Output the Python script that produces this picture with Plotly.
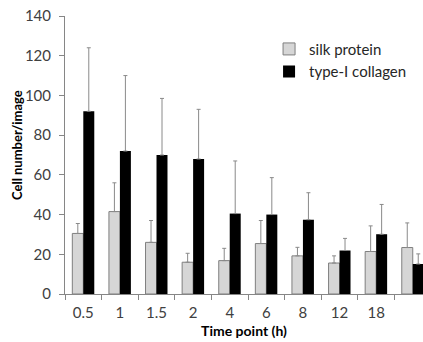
import plotly.graph_objects as go

categories = ["0.5", "1", "1.5", "2", "4", "6", "8", "12", "18", ""]
cat_keys = ["c%d" % i for i in range(len(categories))]

silk_values = [30.5, 41.5, 26.0, 16.0, 16.8, 25.4, 19.2, 15.6, 21.4, 23.4]
silk_err = [5.0, 14.5, 11.0, 4.5, 6.2, 11.6, 4.3, 3.6, 12.9, 12.4]

collagen_values = [92.0, 72.0, 70.0, 68.0, 40.5, 40.0, 37.4, 21.9, 30.1, 15.1]
collagen_err = [32.0, 38.0, 28.5, 25.0, 26.5, 18.6, 13.6, 6.1, 15.0, 5.1]

FONT = "Lato, Open Sans, sans-serif"
ERRC = "#8a8a8a"

fig = go.Figure()
fig.add_trace(go.Bar(
    name="silk protein", x=cat_keys, y=silk_values,
    marker=dict(color="#d6d6d6", line=dict(color="#7f7f7f", width=1)),
    error_y=dict(type="data", array=silk_err, symmetric=False, arrayminus=[0]*10,
                 color=ERRC, thickness=1, width=2),
))
fig.add_trace(go.Bar(
    name="type-I collagen", x=cat_keys, y=collagen_values,
    marker=dict(color="#000000", line=dict(color="#000000", width=0)),
    error_y=dict(type="data", array=collagen_err, symmetric=False, arrayminus=[0]*10,
                 color=ERRC, thickness=1, width=2),
))

fig.update_layout(
    width=423, height=342,
    margin=dict(l=65, r=0, t=16, b=48, autoexpand=False),
    paper_bgcolor="white", plot_bgcolor="white",
    barmode="group", bargap=0.4, bargroupgap=0,
    font=dict(family=FONT, size=14, color="#404040"),
    legend=dict(x=0.57, y=0.94, xanchor="left", yanchor="top",
                bgcolor="rgba(0,0,0,0)", font=dict(size=15, color="#262626"),
                tracegroupgap=0, itemwidth=30),
    showlegend=True,
    annotations=[dict(
        text="<b>Cell number/image</b>", textangle=-90,
        xref="paper", yref="paper", x=-(65 - 17) / 358, y=(294 - 145) / 278,
        xanchor="center", yanchor="middle", showarrow=False,
        font=dict(family=FONT, size=13, color="#000000"),
    )],
)
fig.update_xaxes(
    type="category", categoryorder="array", categoryarray=cat_keys,
    tickvals=cat_keys, ticktext=categories,
    range=[-0.5, 9.28], automargin=False,
    tickson="boundaries", ticks="outside", ticklen=5, tickcolor="#868686",
    ticklabelstandoff=5,
    showline=True, linecolor="#868686", linewidth=1,
    showgrid=False, zeroline=False,
    title=dict(text="<b>Time point (h)</b>", font=dict(size=14, color="#000000"), standoff=6),
    tickfont=dict(size=15, color="#404040"),
)
fig.update_yaxes(
    range=[0, 140], dtick=20, tick0=0, automargin=False,
    ticks="outside", ticklen=5, tickcolor="#868686",
    ticklabelstandoff=5,
    showline=True, linecolor="#868686", linewidth=1,
    showgrid=False, zeroline=False,
    tickfont=dict(size=15, color="#404040"),
)

fig.write_html("out.html",
               config={"displayModeBar": False},
               post_script="document.body.style.margin='0';document.body.style.overflow='hidden';")
